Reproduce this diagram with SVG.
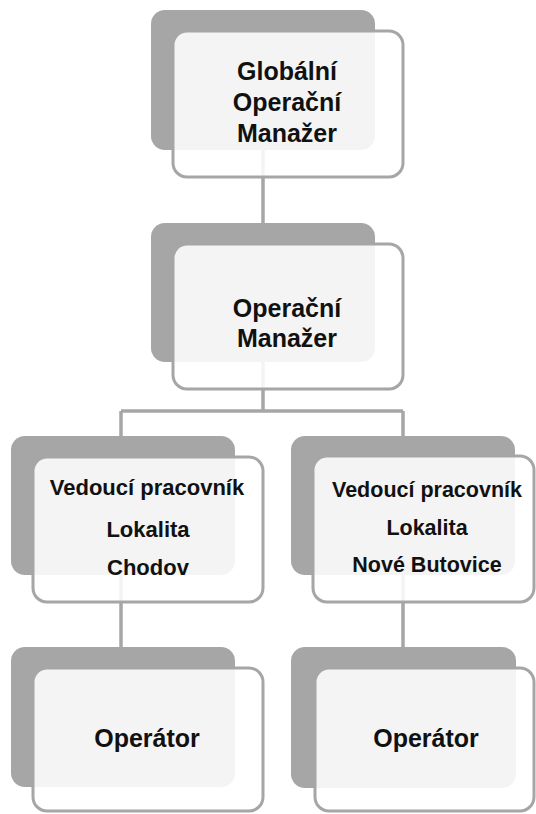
<svg xmlns="http://www.w3.org/2000/svg" width="536" height="814" viewBox="0 0 536 814">
<style>
.sh{fill:#a6a6a6}
.fg{fill:#ffffff;fill-opacity:0.88;stroke:#a6a6a6;stroke-width:3}
.c{stroke:#a6a6a6;stroke-width:3.5;fill:none}
text{font-family:"Liberation Sans",Arial,sans-serif;font-weight:bold;fill:#111;text-anchor:middle}
.t24{font-size:25px}
.t22{font-size:22px}
.t21{font-size:21.5px}
</style>
<rect width="536" height="814" fill="#ffffff"/>
<g id="connectors">
<path class="c" d="M263 150V223"/>
<path class="c" d="M263 362V411M121 411H403M121 411V436M403 411V436"/>
<path class="c" d="M121 575V647M403 575V647"/>
</g>
<g id="n1">
<rect class="sh" x="151" y="10" width="224" height="140" rx="14"/>
<rect class="fg" x="173" y="31" width="230" height="146" rx="14"/>
<text class="t24" x="287" y="80">Globální</text>
<text class="t24" x="287" y="111">Operační</text>
<text class="t24" x="287" y="142">Manažer</text>
</g>
<g id="n2">
<rect class="sh" x="151" y="223" width="224" height="139" rx="14"/>
<rect class="fg" x="173" y="244" width="230" height="145" rx="14"/>
<text class="t24" x="287" y="317">Operační</text>
<text class="t24" x="287" y="347">Manažer</text>
</g>
<g id="n3">
<rect class="sh" x="11" y="436" width="224" height="139" rx="14"/>
<rect class="fg" x="33" y="457" width="230" height="145" rx="14"/>
<text class="t22" x="147" y="495">Vedoucí pracovník</text>
<text class="t22" x="148" y="537">Lokalita</text>
<text class="t22" x="148" y="575">Chodov</text>
</g>
<g id="n4">
<rect class="sh" x="291" y="436" width="224" height="139" rx="14"/>
<rect class="fg" x="313" y="456" width="221" height="146" rx="14"/>
<text class="t21" x="427" y="497">Vedoucí pracovník</text>
<text class="t21" x="427" y="535">Lokalita</text>
<text class="t21" x="427" y="572">Nové Butovice</text>
</g>
<g id="n5">
<rect class="sh" x="11" y="647" width="224" height="140" rx="14"/>
<rect class="fg" x="33" y="668" width="230" height="143" rx="14"/>
<text class="t24" x="147" y="747">Operátor</text>
</g>
<g id="n6">
<rect class="sh" x="291" y="647" width="225" height="141" rx="14"/>
<rect class="fg" x="315" y="668" width="219" height="143" rx="14"/>
<text class="t24" x="426" y="747">Operátor</text>
</g>
</svg>
